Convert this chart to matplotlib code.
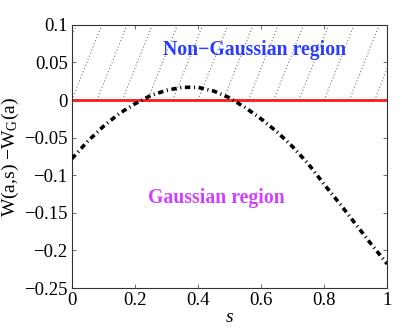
import numpy as np
import matplotlib
matplotlib.use("Agg")
import matplotlib.pyplot as plt

plt.rcParams['font.family'] = ['Liberation Serif', 'DejaVu Serif']
plt.rcParams['mathtext.fontset'] = 'custom'
plt.rcParams['mathtext.rm'] = 'Liberation Serif'
plt.rcParams['mathtext.it'] = 'Liberation Serif:italic'

# curve values
s_vals = [0.0, 0.05, 0.1, 0.15, 0.2, 0.25, 0.3, 0.35, 0.4, 0.45, 0.5,
          0.55, 0.6, 0.65, 0.7, 0.75, 0.8, 0.85, 0.9, 0.95, 1.0]
w_diff = [-0.078, -0.055, -0.035, -0.018, -0.005, 0.006, 0.013, 0.017, 0.017, 0.012, 0.003,
          -0.010, -0.025, -0.042, -0.062, -0.085, -0.112, -0.138, -0.165, -0.192, -0.218]

xticks = [0, 0.2, 0.4, 0.6, 0.8, 1]
xtick_labels = ['0', '0.2', '0.4', '0.6', '0.8', '1']
yticks = [-0.25, -0.2, -0.15, -0.1, -0.05, 0, 0.05, 0.1]
ytick_labels = ['\u22120.25', '\u22120.2', '\u22120.15', '\u22120.1', '\u22120.05', '0', '0.05', '0.1']

fig = plt.figure(figsize=(4.08, 3.32), dpi=100)
ax = fig.add_axes([0.176, 0.1325, 0.773, 0.7925])

# dotted hatch over the non-gaussian region
for s0 in np.arange(-0.16, 1.05, 0.08):
    ax.plot([s0, s0 + 0.095], [0, 0.1], color='#777777', linestyle=(0, (1, 2)), lw=0.8, zorder=1)

ax.axhline(0, color='#ff1a1a', lw=2, zorder=2)
ax.plot(s_vals, w_diff, color='black', lw=2.6, zorder=3, dashes=[1.5, 1.0, 0.3, 1.0])

ax.text(0.58, 0.067, 'Non\u2212Gaussian region', color='#2a3cff', fontsize=14.2,
        fontweight='bold', ha='center', va='center')
ax.text(0.457, -0.13, 'Gaussian region', color='#d040ff', fontsize=14.2,
        fontweight='bold', ha='center', va='center')

ax.set_xlim(0, 1)
ax.set_ylim(-0.25, 0.1)
ax.set_xticks(xticks)
ax.set_xticklabels(xtick_labels)
ax.set_yticks(yticks)
ax.set_yticklabels(ytick_labels)
ax.tick_params(direction='in', top=True, right=True, labelsize=13.5, length=3, width=0.6,
               color='#555555', pad=3)
for sp in ax.spines.values():
    sp.set_linewidth(0.8)
    sp.set_color('#333333')

ax.set_xlabel('$\\mathit{s}$', fontsize=14, labelpad=0)
ax.set_ylabel('W(a,s) \u2212W$_{\\mathrm{G}}$(a)', fontsize=14, labelpad=2)

fig.savefig('out.png', dpi=100)
